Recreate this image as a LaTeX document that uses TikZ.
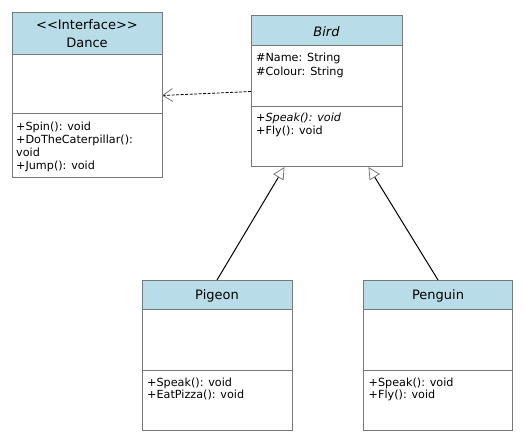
\documentclass[tikz,border=0pt]{standalone}
\usepackage{fontspec}
\setmainfont{DejaVu Sans}
\usetikzlibrary{arrows.meta}
\definecolor{hdr}{RGB}{185,221,232}
\definecolor{edge}{RGB}{120,120,120}
\begin{document}
\begin{tikzpicture}[x=1pt,y=-1pt,
  box/.style={draw=edge, line width=1pt, anchor=north west, inner sep=0pt, outer sep=0pt},
  hdrbox/.style={box, fill=hdr},
  divider/.style={draw=edge, line width=1pt},
  mem/.style={anchor=base west, inner sep=0pt, font=\fontsize{11.2}{13}\selectfont},
  ttl/.style={anchor=base, inner sep=0pt, font=\fontsize{13}{15}\selectfont},
  realize/.style={dashed, dash pattern=on 3pt off 1.5pt, line width=0.8pt, draw=black,
    -{Straight Barb[length=10pt,width=13pt,color=edge,line width=0.8pt]}},
  inherit/.style={line width=1pt, draw=black,
    -{Triangle[open,length=12pt,width=12pt,fill=white,color=edge,line width=0.8pt]}}
]
\useasboundingbox (0,0) rectangle (526,443);

% Dance
\node[box, minimum width=150pt, minimum height=165pt] (dance) at (12,13) {};
\node[hdrbox, minimum width=150pt, minimum height=42pt] (danceh) at (12,13) {};
\node[ttl] (dancet1) at (87,29.8) {<{}<Interface>{}>};
\node[ttl] (dancet2) at (87,47.3) {Dance};
\draw[divider] (12,114) -- (162,114);
\node[mem] (dm1) at (16,130.5) {+Spin(): void};
\node[mem] (dm2) at (16,143.5) {+DoTheCaterpillar():};
\node[mem] (dm3) at (16,156.5) {void};
\node[mem] (dm4) at (16,169.5) {+Jump(): void};

% Bird
\node[box, minimum width=151pt, minimum height=151pt] (bird) at (251,16) {};
\node[hdrbox, minimum width=151pt, minimum height=30pt] (birdh) at (251,16) {};
\node[ttl] (birdt) at (326.5,36.8) {\itshape Bird};
\node[mem] (ba1) at (256,62) {\#Name: String};
\node[mem] (ba2) at (256,76) {\#Colour: String};
\draw[divider] (251,106.5) -- (402,106.5);
\node[mem] (bm1) at (256,121.5) {\itshape +Speak(): void};
\node[mem] (bm2) at (256,135) {+Fly(): void};

% Pigeon
\node[box, minimum width=150pt, minimum height=150pt] (pigeon) at (142,280) {};
\node[hdrbox, minimum width=150pt, minimum height=29pt] (pigeonh) at (142,280) {};
\node[ttl] (pigeont) at (217,299.8) {Pigeon};
\draw[divider] (142,370) -- (292,370);
\node[mem] (pm1) at (147,386.5) {+Speak(): void};
\node[mem] (pm2) at (147,398.5) {+EatPizza(): void};

% Penguin
\node[box, minimum width=149pt, minimum height=150pt] (penguin) at (363.5,280) {};
\node[hdrbox, minimum width=149pt, minimum height=29pt] (penguinh) at (363.5,280) {};
\node[ttl] (penguint) at (438,299.8) {Penguin};
\draw[divider] (363.5,370) -- (512.5,370);
\node[mem] (qm1) at (368.5,386.5) {+Speak(): void};
\node[mem] (qm2) at (368.5,398.5) {+Fly(): void};

% connectors
\coordinate (birdL) at ([xshift=-42pt]bird.south);
\coordinate (birdR) at ([xshift=42pt]bird.south);
\draw[realize] (bird.west) -- (dance.east);
\draw[inherit] (pigeon.north) -- (birdL);
\draw[inherit] (penguin.north) -- (birdR);
\end{tikzpicture}
\end{document}
